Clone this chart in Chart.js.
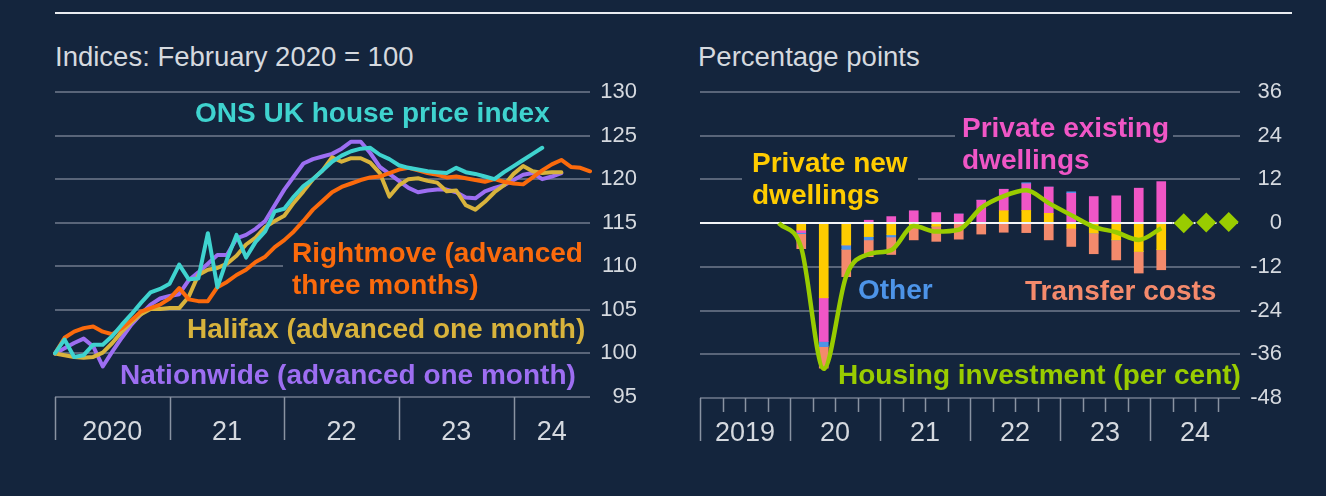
<!DOCTYPE html>
<html>
<head>
<meta charset="utf-8">
<script src="https://cdn.jsdelivr.net/npm/chart.js@4.4.1/dist/chart.umd.min.js"></script>
<style>
html, body { margin: 0; padding: 0; background: #14253d; }
body { width: 1326px; height: 496px; position: relative; overflow: hidden; font-family: "Liberation Sans", Arial, sans-serif; }
#topRule { position: absolute; left: 55px; top: 12px; width: 1237px; height: 2px; background: #e9ecf0; }
.title { position: absolute; top: 42px; color: #d5d9df; font-size: 27.5px; line-height: 30px; white-space: nowrap; }
.wrap { position: absolute; top: 0; width: 663px; height: 496px; }
</style>
</head>
<body>
<div id="topRule"></div>
<div class="title" style="left:55px">Indices: February 2020 = 100</div>
<div class="title" style="left:698px">Percentage points</div>
<div class="wrap" style="left:0"><canvas id="housePrices" width="663" height="496"></canvas></div>
<div class="wrap" style="left:663px"><canvas id="investment" width="663" height="496"></canvas></div>
<script>
// left panel: monthly indices, Feb 2020 = 100
const leftYearLabels = ['2020', '21', '22', '23', '24'];
const ons = [100, 101.6, 99.6, 99.8, 101, 101, 102, 103.3, 104.5, 105.8, 107, 107.4, 108, 110.2, 108.5, 108.6,
  113.8, 107.6, 110.8, 113.6, 111, 112.8, 114, 116.3, 116.6, 118, 119.2, 120, 121, 122, 122.7, 123.2, 123.5,
  123.6, 122.8, 122.3, 121.6, 121.3, 121.1, 120.9, 120.8, 120.7, 121.3, 120.8, 120.6, 120.3, 120, 120.8, 121.5,
  122.2, 122.9, 123.6];
const rightmove = [100, 101.8, 102.5, 102.9, 103.1, 102.5, 102.2, 102.9, 103.8, 104.8, 105.2, 105.6, 106.3, 107.5,
  106.2, 106, 106, 107.6, 108.2, 109, 109.6, 110.5, 111.1, 112.2, 113, 114, 115.2, 116.5, 117.5, 118.5, 119.1,
  119.5, 119.9, 120.2, 120.3, 120.7, 121.1, 121.3, 121, 120.7, 120.5, 120.2, 120.3, 120.1, 119.9, 119.7, 120,
  119.7, 119.5, 119.4, 120.2, 121, 121.7, 122.2, 121.4, 121.3, 120.9];
const halifax = [100, 99.8, 99.6, 99.5, 99.6, 100.1, 101.2, 102.5, 103.6, 104.5, 105.1, 105.1, 105.2, 105.2, 106.5,
  109, 109.6, 109.8, 110.3, 111.2, 112.5, 113.3, 114.5, 115.2, 115.8, 117.3, 118.6, 120, 121, 122.5, 122, 122.4,
  122.4, 121.9, 120.7, 118, 119.3, 120, 120.1, 119.8, 119.6, 118.6, 118.7, 117, 116.5, 117.4, 118.5, 119.3,
  120.6, 121.5, 120.9, 120.7, 120.8, 120.8];
const nationwide = [100, 100.6, 101.2, 101.7, 100.8, 98.5, 100.2, 101.8, 103.3, 104.5, 105.6, 106.3, 106.6, 106.8,
  108.4, 109.3, 110.3, 111.3, 111.3, 113.2, 113.6, 114.3, 115.2, 117, 118.8, 120.3, 121.8, 122.3, 122.6, 122.9,
  123.5, 124.3, 124.3, 123, 121.4, 120.6, 119.8, 119, 118.5, 118.7, 118.8, 118.8, 118.5, 117.9, 117.8, 118.6,
  119, 119.3, 119.9, 120.5, 120.7, 120, 120.3, 120.7];

// right panel: quarterly contributions, 2020 Q1 - 2024 Q1
const rightYearLabels = ['2019', '20', '21', '22', '23', '24'];
const newDwellings = [-1.9, -20.5, -6, -3.7, -3.2, -0.5, -0.9, 0, 0, 3.4, 3.5, 2.7, -1.4, -2.7, -4.6, -7.8, -7.3];
const existingDwellings = [-0.7, -12, 0, 0.8, 1.8, 3.4, 2.9, 2.5, 6.3, 5.9, 7.3, 7.2, 8.2, 7.3, 7.5, 9.6, 11.4];
const otherContrib = [-0.3, -1.4, -1.2, -0.9, -0.6, 0, 0, 0, 0, 0, 0.3, 0, 0.4, 0, 0, 0, 0];
const transferCosts = [-4.1, -5.9, -7.5, -4.6, -4.8, -4.1, -4.1, -4.4, -3, -2.5, -2.6, -4.6, -5, -5.7, -5.5, -5.9, -5.5];
// housing investment growth, 2019 Q4 - 2024 Q1, then projection 2024 Q2 - Q4
const housingInvestment = [0, -6.8, -40, -14.5, -8.5, -7.4, -0.8, -2.3, -1.8, 4.2, 7.4, 9, 5.5, 2.2, -1, -2.5, -4.6, -1.4];
const projection = [0, 0.2, 0.3];

const bgCol = '#14253d';
const gridCol = '#596579';
const textCol = '#d5d9df';
const tickCol = '#8993a2';
const fontName = '"Liberation Sans", Arial, sans-serif';

const monthCats = [];
for (let y = 2020; y <= 2024; y++) {
  for (let m = 1; m <= 12; m++) {
    if (y === 2024 && m > 9) break;
    monthCats.push(y + '-' + String(m).padStart(2, '0'));
  }
}
const quarterCats = [];
for (let y = 2019; y <= 2024; y++) {
  for (let q = 1; q <= 4; q++) quarterCats.push(y + ' Q' + q);
}
function pad(arr, before, total) {
  const out = new Array(before).fill(null).concat(arr);
  while (out.length < total) out.push(null);
  return out;
}

const leftNotes = [
  { lines: ['ONS UK house price index'], x: 195, y: 114, color: '#3fd3cf' },
  { lines: ['Rightmove (advanced', 'three months)'], x: 292, y: 254, color: '#fb6a0c', mask: [283, 259, 310, 16] },
  { lines: ['Halifax (advanced one month)'], x: 187, y: 330, color: '#d8b33c' },
  { lines: ['Nationwide (advanced one month)'], x: 120, y: 376, color: '#9d6ef2' }
];
const rightNotes = [
  { lines: ['Private new', 'dwellings'], x: 89, y: 164, color: '#ffcc00', mask: [79, 172, 176, 16] },
  { lines: ['Private existing', 'dwellings'], x: 299, y: 129, color: '#f056c6', mask: [292, 128, 218, 16] },
  { lines: ['Other'], x: 195, y: 291, color: '#4d94e8' },
  { lines: ['Transfer costs'], x: 362, y: 292, color: '#f48a6c' },
  { lines: ['Housing investment (per cent)'], x: 175, y: 376, color: '#99cc00' }
];

function drawNotes(chart, notes) {
  const ctx = chart.ctx;
  ctx.save();
  notes.forEach(n => {
    if (n.mask) {
      ctx.fillStyle = bgCol;
      ctx.fillRect(n.mask[0], n.mask[1], n.mask[2], n.mask[3]);
    }
  });
  ctx.font = 'bold 28px ' + fontName;
  ctx.textAlign = 'left';
  ctx.textBaseline = 'middle';
  notes.forEach(n => {
    ctx.fillStyle = n.color;
    n.lines.forEach((t, k) => ctx.fillText(t, n.x, n.y + k * 32));
  });
  ctx.restore();
}

// year ticks and labels under the plot, placed from the x scale
function drawTimeAxis(chart, cats, yearNames, perYear, minor) {
  const ctx = chart.ctx, xs = chart.scales.x, a = chart.chartArea;
  const step = xs.getPixelForValue(1) - xs.getPixelForValue(0);
  const edge = i => xs.getPixelForValue(i) - (xs.options.offset ? step / 2 : 0);
  const starts = [];
  ctx.save();
  ctx.strokeStyle = tickCol;
  ctx.lineWidth = 1.5;
  for (let i = 0; i < cats.length; i++) {
    const major = i % perYear === 0;
    if (!major && !minor) continue;
    const x = Math.round(edge(i)) + 0.5;
    ctx.beginPath();
    ctx.moveTo(x, a.bottom);
    ctx.lineTo(x, a.bottom + (major ? 43 : 14));
    ctx.stroke();
    if (major) starts.push(edge(i));
  }
  starts.push(a.right);
  ctx.fillStyle = textCol;
  ctx.font = '27px ' + fontName;
  ctx.textAlign = 'center';
  ctx.textBaseline = 'middle';
  yearNames.forEach((n, k) => ctx.fillText(n, (starts[k] + starts[k + 1]) / 2, a.bottom + 36));
  ctx.restore();
}

const yTicks = { color: textCol, font: { size: 22, family: fontName }, padding: 0, crossAlign: 'far' };

new Chart(document.getElementById('housePrices'), {
  type: 'line',
  data: {
    labels: monthCats,
    datasets: [
      { label: 'ONS UK house price index', data: ons, borderColor: '#3fd3cf' },
      { label: 'Rightmove', data: rightmove, borderColor: '#fb6a0c' },
      { label: 'Halifax', data: halifax, borderColor: '#d8b33c' },
      { label: 'Nationwide', data: nationwide, borderColor: '#9d6ef2' }
    ]
  },
  options: {
    responsive: false,
    animation: false,
    layout: { padding: { left: 55, top: 92, bottom: 99, right: 26 } },
    elements: {
      line: { borderWidth: 4, tension: 0, borderJoinStyle: 'round', borderCapStyle: 'round' },
      point: { radius: 0 }
    },
    plugins: { legend: { display: false }, tooltip: { enabled: false } },
    scales: {
      x: { type: 'category', offset: false, display: false },
      y: {
        position: 'right', min: 95, max: 130,
        ticks: Object.assign({ stepSize: 5 }, yTicks),
        grid: { color: gridCol, lineWidth: 2, drawTicks: false },
        border: { display: false },
        afterFit(scale) { scale.width = 47; }
      }
    }
  },
  plugins: [{
    id: 'leftDecor',
    beforeDatasetsDraw(chart) { drawNotes(chart, leftNotes); },
    afterDraw(chart) { drawTimeAxis(chart, monthCats, leftYearLabels, 12, false); }
  }]
});

const nq = quarterCats.length;
new Chart(document.getElementById('investment'), {
  type: 'bar',
  data: {
    labels: quarterCats,
    datasets: [
      { type: 'line', label: 'Housing investment', data: pad(housingInvestment, 3, nq), stack: 'inv', order: 1,
        borderColor: '#99cc00', borderWidth: 4.5, cubicInterpolationMode: 'monotone', pointRadius: 0,
        borderJoinStyle: 'round' },
      { type: 'line', label: 'Projection', data: pad(projection, 21, nq), stack: 'proj', order: 0,
        showLine: false, pointStyle: 'rectRot', pointRadius: 10, backgroundColor: '#99cc00', borderWidth: 0 },
      { label: 'Private new dwellings', data: pad(newDwellings, 4, nq), backgroundColor: '#ffcc00', stack: 'bars', order: 2 },
      { label: 'Private existing dwellings', data: pad(existingDwellings, 4, nq), backgroundColor: '#f056c6', stack: 'bars', order: 2 },
      { label: 'Other', data: pad(otherContrib, 4, nq), backgroundColor: '#4d94e8', stack: 'bars', order: 2 },
      { label: 'Transfer costs', data: pad(transferCosts, 4, nq), backgroundColor: '#f48a6c', stack: 'bars', order: 2 }
    ]
  },
  options: {
    responsive: false,
    animation: false,
    layout: { padding: { left: 37, top: 92, bottom: 98, right: 44 } },
    datasets: { bar: { barThickness: 9, borderWidth: 0 } },
    plugins: { legend: { display: false }, tooltip: { enabled: false } },
    scales: {
      x: { type: 'category', offset: true, stacked: true, display: false },
      y: {
        position: 'right', min: -48, max: 36, stacked: true,
        ticks: Object.assign({ stepSize: 12 }, yTicks),
        grid: { color: c => c.tick && c.tick.value === 0 ? 'rgba(0,0,0,0)' : gridCol, lineWidth: 2, drawTicks: false },
        border: { display: false },
        afterFit(scale) { scale.width = 42; }
      }
    }
  },
  plugins: [{
    id: 'rightDecor',
    beforeDatasetsDraw(chart) { drawNotes(chart, rightNotes); },
    beforeDatasetDraw(chart, args) {
      if (chart.data.datasets[args.index].stack !== 'inv') return;
      // zero line: solid over the outturn bars, dotted across the projection
      const ctx = chart.ctx, xs = chart.scales.x, a = chart.chartArea;
      const y0 = Math.round(chart.scales.y.getPixelForValue(0));
      const lastBar = 4 + newDwellings.length - 1;
      const cut = (xs.getPixelForValue(lastBar) + xs.getPixelForValue(lastBar + 1)) / 2;
      ctx.save();
      ctx.strokeStyle = '#f2f4f7';
      ctx.lineWidth = 2;
      ctx.beginPath(); ctx.moveTo(a.left, y0); ctx.lineTo(cut, y0); ctx.stroke();
      ctx.setLineDash([2, 5]);
      ctx.beginPath(); ctx.moveTo(cut, y0); ctx.lineTo(a.right, y0); ctx.stroke();
      ctx.restore();
    },
    afterDraw(chart) { drawTimeAxis(chart, quarterCats, rightYearLabels, 4, true); }
  }]
});
</script>
</body>
</html>
